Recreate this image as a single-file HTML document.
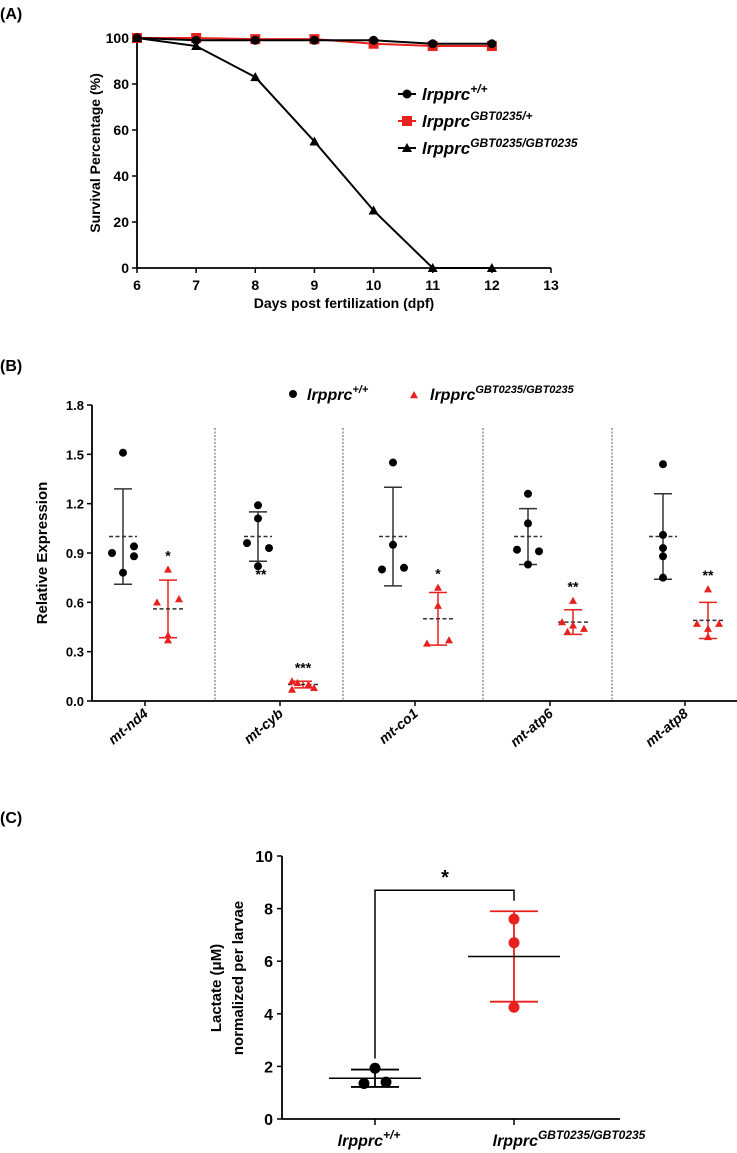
<!DOCTYPE html>
<html><head><meta charset="utf-8"><style>
body{margin:0;background:#fff}
svg{display:block;font-family:"Liberation Sans",Arial,sans-serif;font-weight:bold}
</style></head><body>
<svg id="s" width="737" height="1153" viewBox="0 0 737 1153"></svg>
<script>
// Panel A data
const aDays=[6,7,8,9,10,11,12];
const aWT=[100,99,99,99,99,97.5,97.5];
const aHet=[100,100,99.5,99.5,97.5,96.5,96.5];
const aHom=[100,96.5,83,55,25,0,0];
const aXTicks=[6,7,8,9,10,11,12,13];
const aYTicks=[0,20,40,60,80,100];
// Panel B data
const bGenes=["mt-nd4","mt-cyb","mt-co1","mt-atp6","mt-atp8"];
const bWT=[[1.51,0.90,0.94,0.88,0.78],[1.19,1.11,0.96,0.93,0.82],[1.45,0.95,0.80,0.81],[1.26,1.08,0.92,0.91,0.83],[1.44,1.01,0.93,0.88,0.75]];
const bWTOff=[[0,-1,1,1,0],[0,0,-1,1,0],[0,0,-1,1],[0,0,-1,1,0],[0,0,0,0,0]];
const bWTMean=[1,1,1,1,1];
const bWTSD=[0.29,0.15,0.30,0.17,0.26];
const bMut=[[0.80,0.60,0.62,0.40,0.37],[0.12,0.11,0.10,0.08,0.07],[0.69,0.58,0.35,0.37],[0.61,0.48,0.46,0.44,0.42],[0.68,0.47,0.47,0.44,0.39]];
const bMutOff=[[0,-1,1,0,0],[-1,-0.5,0.5,1,-1],[0,0,-1,1],[0,-1,0,1,-0.5],[0,-1,1,0,0]];
const bMutMean=[0.56,0.10,0.50,0.48,0.49];
const bMutSD=[0.175,0.02,0.16,0.075,0.11];
const bStars=["*","***","*","**","**"];
const bWTStar=["","**","","",""];
const bYTicks=[0,0.3,0.6,0.9,1.2,1.5,1.8];
// Panel C data
const cGroups=["wt","mut"];
const cWT=[1.93,1.35,1.40];
const cWTOff=[0,-1,1];
const cMut=[7.6,6.7,4.25];
const cMean=[1.55,6.18];
const cSD=[0.33,1.72];
const cYTicks=[0,2,4,6,8,10];

const s=document.getElementById('s');
const NS="http://www.w3.org/2000/svg";
function mk(tag,at,txt){const e=document.createElementNS(NS,tag);for(const k in at)e.setAttribute(k,at[k]);if(txt!==undefined)e.textContent=txt;s.appendChild(e);return e;}
function line(x1,y1,x2,y2,c,w,d){return mk('line',{x1,y1,x2,y2,stroke:c,'stroke-width':w||1.5,'stroke-dasharray':d||'none'});}
function tri(x,y,r,c){return mk('polygon',{points:`${x},${y-r} ${x-r},${y+r*0.8} ${x+r},${y+r*0.8}`,fill:c});}

// ===== Panel A =====
let e=mk('text',{x:0,y:19,'font-size':16},'(A)');

const ax=d=>137+(d-6)*(551-137)/7, ay=v=>268-v*2.3;
line(137,268,137,38,'#000',1.8);line(137,268,551,268,'#000',1.8);
aXTicks.forEach(t=>{line(ax(t),268,ax(t),273,'#000',1.5);
 e=mk('text',{x:ax(t),y:290,'font-size':14,'text-anchor':'middle'},t);
 });
aYTicks.forEach(t=>{line(132,ay(t),137,ay(t),'#000',1.5);
 e=mk('text',{x:129,y:ay(t)+5,'font-size':14,'text-anchor':'end'},t);
 });
e=mk('text',{x:344,y:308,'font-size':14,'text-anchor':'middle'},'Days post fertilization (dpf)');

e=mk('text',{x:0,y:0,'font-size':14,'text-anchor':'middle',transform:'translate(100,153) rotate(-90)'},'Survival Percentage (%)');

function series(vals,c){let p=mk('polyline',{points:aDays.map((d,i)=>ax(d)+','+ay(vals[i])).join(' '),fill:'none',stroke:c,'stroke-width':2});return p;}
e=series(aHet,'#e8211e');
aDays.forEach((d,i)=>{e=mk('rect',{x:ax(d)-5,y:ay(aHet[i])-5,width:10,height:10,fill:'#e8211e'});});
e=series(aWT,'#000');
aDays.forEach((d,i)=>{e=mk('circle',{cx:ax(d),cy:ay(aWT[i]),r:4.5,fill:'#000'});});
e=series(aHom,'#000');
aDays.forEach((d,i)=>{e=tri(ax(d),ay(aHom[i]),5,'#000');});
// legend A
const lg=[['c','#000','+/+'],['r','#e8211e','GBT0235/+'],['t','#000','GBT0235/GBT0235']];
lg.forEach((l,i)=>{const y=94+i*27;line(398,y,416,y,l[1],2);
 if(l[0]=='c')e=mk('circle',{cx:407,cy:y,r:4.5,fill:'#000'});else if(l[0]=='r')e=mk('rect',{x:402,y:y-5,width:10,height:10,fill:l[1]});else e=tri(407,y,5,'#000');
 
 e=mk('text',{x:422,y:y+6,'font-size':17,'font-style':'italic'});
 
 e.innerHTML='lrpprc<tspan font-size="12" dy="-7">'+l[2]+'</tspan>';});

// ===== Panel B =====
e=mk('text',{x:0,y:371,'font-size':16},'(B)');

const by=v=>701-v*(701-405)/1.8;
const bCenter=i=>145+i*135;
line(92,701,92,405,'#000',1.8);line(92,701,737,701,'#000',1.8);
bYTicks.forEach(t=>{line(87,by(t),92,by(t),'#000',1.5);
 e=mk('text',{x:84,y:by(t)+5,'font-size':13,'text-anchor':'end'},t.toFixed(1));
 });
[215,343,483,612].forEach(x=>{e=line(x,428,x,701,'#333',0.8,'2,1.5');});
e=mk('text',{x:0,y:0,'font-size':15,'text-anchor':'middle',transform:'translate(47,553) rotate(-90)'},'Relative Expression');

bGenes.forEach((g,i)=>{const c=bCenter(i),xw=c-22,xm=c+23;
 line(c,701,c,706,'#000',1.5);
 e=mk('text',{x:0,y:0,'font-size':14,'font-style':'italic','text-anchor':'end',transform:`translate(${c+4},715) rotate(-40)`},g);
 
 line(xw,by(bWTMean[i]-bWTSD[i]),xw,by(bWTMean[i]+bWTSD[i]),'#333',1.5);
 [bWTMean[i]-bWTSD[i],bWTMean[i]+bWTSD[i]].forEach(v=>line(xw-9,by(v),xw+9,by(v),'#333',1.5));
 e=line(xw-14,by(bWTMean[i]),xw+14,by(bWTMean[i]),'#333',1.5,'4,2.5');
 bWT[i].forEach((v,j)=>{e=mk('circle',{cx:xw+bWTOff[i][j]*11,cy:by(v),r:4,fill:'#000'});});
 if(bWTStar[i]){e=mk('text',{x:xw+3,y:by(bWTMean[i]-bWTSD[i])+18,'font-size':14,'text-anchor':'middle'},bWTStar[i]);}
 line(xm,by(bMutMean[i]-bMutSD[i]),xm,by(bMutMean[i]+bMutSD[i]),'#e8211e',1.5);
 [bMutMean[i]-bMutSD[i],bMutMean[i]+bMutSD[i]].forEach(v=>line(xm-9,by(v),xm+9,by(v),'#e8211e',1.5));
 e=line(xm-15,by(bMutMean[i]),xm+15,by(bMutMean[i]),'#333',1.5,'4,2.5');
 bMut[i].forEach((v,j)=>{e=tri(xm+bMutOff[i][j]*11,by(v),4,'#e8211e');});
 const top=Math.max(...bMut[i],bMutMean[i]+bMutSD[i]);
 e=mk('text',{x:xm,y:by(top)-9,'font-size':14,'text-anchor':'middle'},bStars[i]);
 
});
e=mk('circle',{cx:293,cy:394,r:4,fill:'#000'});
e=mk('text',{x:307,y:400,'font-size':16,'font-style':'italic'});e.innerHTML='lrpprc<tspan font-size="11" dy="-7">+/+</tspan>';

e=tri(414,395,4,'#e8211e');
e=mk('text',{x:430,y:400,'font-size':16,'font-style':'italic'});e.innerHTML='lrpprc<tspan font-size="11" dy="-7">GBT0235/GBT0235</tspan>';


// ===== Panel C =====
e=mk('text',{x:0,y:823,'font-size':16},'(C)');

const cy=v=>1119-v*(1119-856)/10;
const cx=[375,514];
line(282,1119,282,856,'#000',1.8);line(282,1119,620,1119,'#000',1.8);
cYTicks.forEach(t=>{line(277,cy(t),282,cy(t),'#000',1.5);
 e=mk('text',{x:273,y:cy(t)+6,'font-size':16,'text-anchor':'end'},t);
 });
e=mk('text',{x:0,y:0,'font-size':15,'text-anchor':'middle',transform:'translate(221,988) rotate(-90)'},'Lactate (\u03bcM)');

e=mk('text',{x:0,y:0,'font-size':15,'text-anchor':'middle',transform:'translate(243,978) rotate(-90)'},'normalized per larvae');

cGroups.forEach((g,i)=>{line(cx[i],1119,cx[i],1125,'#000',1.5);
 e=mk('text',{x:cx[i]+(i?55:-6),y:1146,'font-size':16,'font-style':'italic','text-anchor':'middle'});
 e.innerHTML=i?'lrpprc<tspan font-size="12" dy="-7">GBT0235/GBT0235</tspan>':'lrpprc<tspan font-size="12" dy="-7">+/+</tspan>';
 
 const col=i?'#e8211e':'#000';
 line(cx[i],cy(cMean[i]-cSD[i]),cx[i],cy(cMean[i]+cSD[i]),col,1.8);
 [cMean[i]-cSD[i],cMean[i]+cSD[i]].forEach(v=>line(cx[i]-24,cy(v),cx[i]+24,cy(v),col,1.8));
 e=line(cx[i]-46,cy(cMean[i]),cx[i]+46,cy(cMean[i]),'#000',1.5);
});
cWT.forEach((v,j)=>{e=mk('circle',{cx:cx[0]+cWTOff[j]*11,cy:cy(v),r:5.5,fill:'#000'});});
cMut.forEach(v=>{e=mk('circle',{cx:cx[1],cy:cy(v),r:5.5,fill:'#e8211e'});});
e=mk('polyline',{points:`${cx[0]},${cy(2.3)} ${cx[0]},${cy(8.7)} ${cx[1]},${cy(8.7)} ${cx[1]},${cy(8.3)}`,fill:'none',stroke:'#000','stroke-width':1.5});

e=mk('text',{x:445,y:cy(8.7)-6,'font-size':20,'text-anchor':'middle'},'*');

</script>
</body></html>
